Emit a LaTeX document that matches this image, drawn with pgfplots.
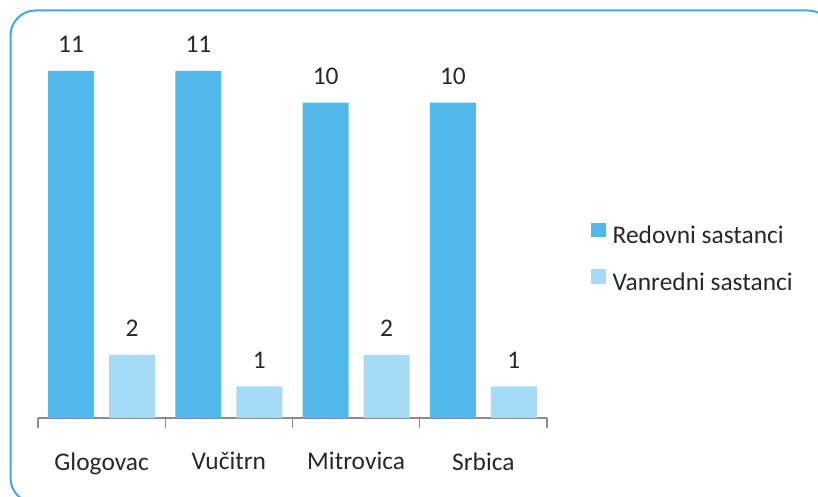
\documentclass[border=0pt]{standalone}
\usepackage{pgfplots}
\pgfplotsset{compat=1.18}
\usepackage{fontspec}
\setmainfont{Carlito}
\definecolor{redovni}{RGB}{80,184,234}
\definecolor{vanredni}{RGB}{166,219,245}
\definecolor{framec}{RGB}{66,168,226}
\definecolor{txt}{RGB}{40,40,40}
\definecolor{axc}{RGB}{140,140,140}
\begin{document}
\begin{tikzpicture}[x=1bp,y=1bp]
\clip (0,0) rectangle (818,497);
\fill[white] (0,0) rectangle (818,497);
\draw[framec, line width=2bp, rounded corners=25bp] (10.5,486.5) rectangle (833,-6);
\begin{axis}[
  at={(38bp,79bp)}, anchor=south west,
  scale only axis, width=509bp, height=347bp,
  xmin=-0.5, xmax=3.5, ymin=0, ymax=11,
  clip=false,
  axis x line*=bottom, axis y line=none,
  x axis line style={axc, line width=1.3bp},
  ybar=15bp, bar width=46bp,
  xtick={0,1,2,3}, xticklabels={Glogovac,Vučitrn,Mitrovica,Srbica},
  minor xtick={-0.5,0.5,1.5,2.5,3.5},
  major tick length=0pt, minor tick length=10bp, tick align=outside,
  minor tick style={axc, line width=1.3bp},
  major tick style={draw=none},
  xticklabel style={font=\fontsize{25.5}{30}\selectfont, text=txt, yshift=-31bp},
  ytick=\empty,
  /pgf/number format/assume math mode=true,
  nodes near coords,
  nodes near coords style={font=\fontsize{25.5}{30}\selectfont, text=txt, anchor=south, inner sep=0pt, yshift=18bp},
  legend image code/.code={\fill[#1] (0bp,0.5bp) rectangle (14.5bp,15bp);},
  legend cell align=left,
  legend style={draw=none, fill=none, at={(1.0806,0.458)}, anchor=west,
    font=\fontsize{25.5}{30}\selectfont, text=txt,
    nodes={inner sep=0pt, text height=17bp, text depth=5bp},
    row sep=20.5bp,
    /tikz/every odd column/.append style={column sep=7bp}},
]
\addplot[fill=redovni, draw=none] coordinates {(0,11) (1,11) (2,10) (3,10)};
\addplot[fill=vanredni, draw=none] coordinates {(0,2) (1,1) (2,2) (3,1)};
\legend{Redovni sastanci, Vanredni sastanci}
\end{axis}
\end{tikzpicture}
\end{document}
